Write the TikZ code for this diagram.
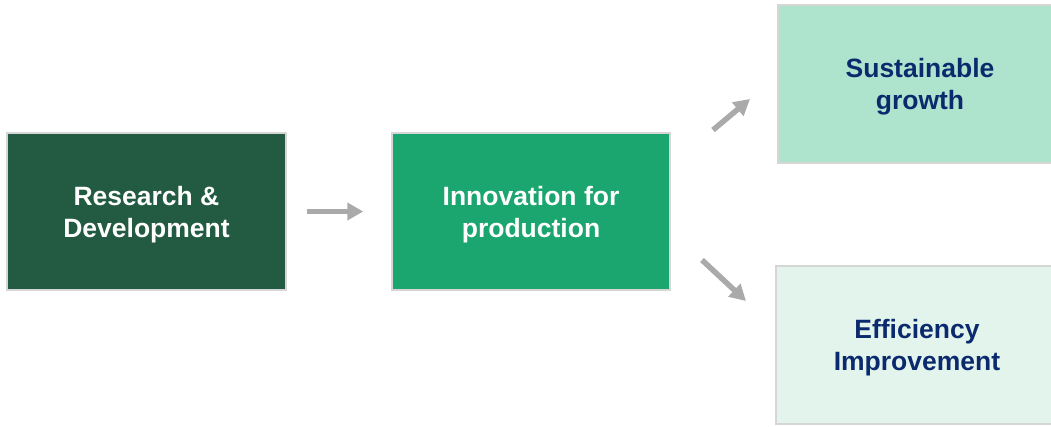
\documentclass[tikz,border=0pt]{standalone}
\usepackage{fontspec}
\setmainfont{Liberation Sans}
\usetikzlibrary{arrows.meta}
\definecolor{darkg}{HTML}{225B42}
\definecolor{midg}{HTML}{1AA66E}
\definecolor{lightg}{HTML}{AEE3CD}
\definecolor{paleg}{HTML}{E2F4EC}
\definecolor{navy}{HTML}{0B2A6E}
\definecolor{arr}{HTML}{AAAAAA}
\definecolor{bord}{HTML}{D6D6D6}
\begin{document}
\begin{tikzpicture}[x=1pt,y=-1pt,
  box/.style={draw=bord,line width=1.5pt,inner sep=0pt},
  txt/.style={align=center,inner sep=0pt,yshift=-3pt,
    font=\fontsize{26.5}{32}\selectfont\bfseries},
  flow/.style={draw=arr,line width=5.5pt,-{Triangle[length=16pt,width=17pt]}}]
\useasboundingbox (0,0) rectangle (1051,426);
\clip (0,0) rectangle (1051,426);
\node[box,fill=darkg,minimum width=279pt,minimum height=157pt,
  label={[txt,text=white]center:Research \&\\Development}] (rd) at (146.5,211.5) {};
\node[box,fill=midg,minimum width=278pt,minimum height=157pt,
  label={[txt,text=white]center:Innovation for\\production}] (inn) at (531,211.5) {};
\node[box,fill=lightg,minimum width=284pt,minimum height=158pt,
  label={[txt,text=navy]center:Sustainable\\growth}] (sus) at (920,84) {};
\node[box,fill=paleg,minimum width=282pt,minimum height=158pt,
  label={[txt,text=navy]center:Efficiency\\Improvement}] (eff) at (917,345) {};
\coordinate (a2s) at (713,130);
\coordinate (a2e) at (750,99);
\coordinate (a3s) at (702,260);
\coordinate (a3e) at (746,301);
\draw[flow,shorten <=20pt,shorten >=28pt] (rd.east) -- (inn.west);
\draw[flow] (a2s) -- (a2e);
\draw[flow] (a3s) -- (a3e);
\end{tikzpicture}
\end{document}
